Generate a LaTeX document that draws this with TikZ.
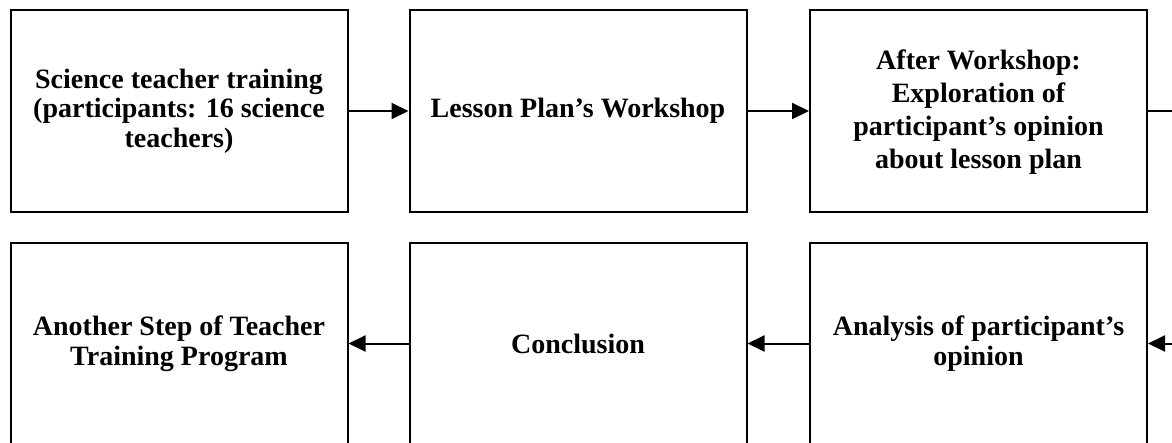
\documentclass[tikz,border=0pt]{standalone}
\usepackage{fontspec}
\setmainfont{Liberation Serif}
\usetikzlibrary{arrows.meta}
\tikzset{
  boxfont/.style={font=\bfseries\fontsize{28}{29.5}\selectfont},
  stepbox/.style={draw=black, line width=2pt, rectangle, minimum width=337pt, minimum height=202pt,
    align=center, inner sep=0pt, boxfont},
  conn/.style={line width=2pt, -{Triangle[length=17pt,width=16pt]}},
}
\begin{document}
\begin{tikzpicture}[x=1pt,y=-1pt]
\useasboundingbox (0,0) rectangle (1172,442);
\clip (0,0) rectangle (1172,442);
\node[stepbox] (b1) at (179,111) {Science teacher training\\(participants: 16 science\\teachers)};
\node[stepbox] (b2) at (578,111) {Lesson Plan’s Workshop};
\node[stepbox] (b3) at (978.5,111) {};
\node[align=center, font=\bfseries\fontsize{28}{33.2}\selectfont] (t3) at (978.5,112) {After Workshop:\\Exploration of\\participant’s opinion\\about lesson plan};
\node[stepbox] (b4) at (978.5,343.5) {Analysis of participant’s\\opinion};
\node[stepbox] (b5) at (578,343.5) {Conclusion};
\node[stepbox] (b6) at (179,343.5) {Another Step of Teacher\\Training Program};
\coordinate (turn) at (1200,111);
\draw[conn] (b1) -- (b2);
\draw[conn] (b2) -- (b3);
\draw[conn] (b3.east) -- (turn) |- (b4.east);
\draw[conn] (b5) -- (b6);
\draw[conn] (b4) -- (b5);
\end{tikzpicture}
\end{document}
